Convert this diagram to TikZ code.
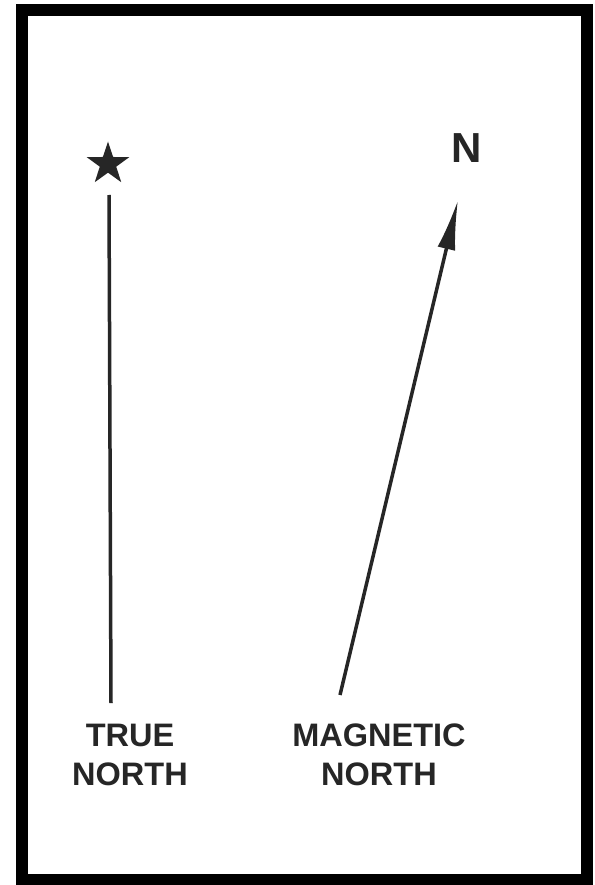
\documentclass[tikz,border=0pt]{standalone}
\usepackage{fontspec}
\newfontfamily\labelfont{Liberation Sans}
\usetikzlibrary{positioning,arrows.meta,shapes.geometric}
\tikzset{
    >=Stealth,
    frame/.style={draw, line width=12pt},
    northline/.style={line width=3.5pt, draw=black!85},
    label/.style={align=center, text=black!85, font=\labelfont\bfseries\fontsize{32.5}{39}\selectfont},
    truestar/.style={star, star points=5, star point ratio=2.6, fill=black!85, minimum size=45pt, inner sep=0pt}
}

\begin{document}
\begin{tikzpicture}[x=1pt, y=-1pt]
    \useasboundingbox (0,0) rectangle (594,885);
    \fill[white] (0,0) rectangle (594,885);
    \draw[frame] (22,10) rectangle (587,880);

    % true north
    \node[truestar] (star) at (108,164) {};
    \coordinate (ttop) at (109,195);
    \coordinate (tbot) at (111,703);
    \draw[northline] (tbot) -- (ttop);
    \node[label] (truelbl) at (130,755) {TRUE\\NORTH};

    % magnetic north
    \coordinate (mbot) at (340,695);
    \coordinate (mtip) at (458,200);
    \draw[northline, -{Latex[length=50pt, width=18pt]}] (mbot) -- (mtip);
    \node[label, font=\labelfont\bfseries\fontsize{42}{42}\selectfont] (nlbl) at (467,148) {N};
    \node[label] (maglbl) at (379,755) {MAGNETIC\\NORTH};
\end{tikzpicture}
\end{document}
